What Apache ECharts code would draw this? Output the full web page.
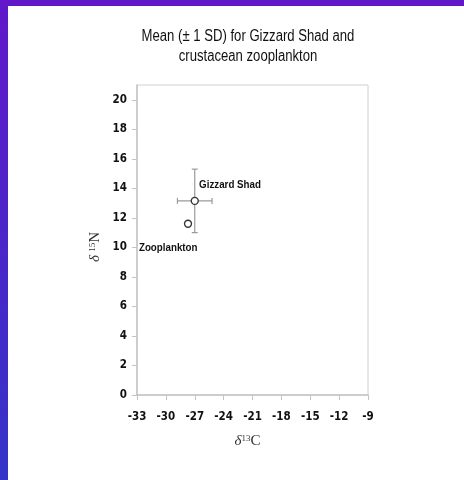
<!DOCTYPE html>
<html>
<head>
<meta charset="utf-8">
<script src="https://cdn.jsdelivr.net/npm/echarts@6/dist/echarts.min.js"></script>
<style>
html,body{margin:0;padding:0;background:#fff;}
#c{width:464px;height:480px;}
</style>
</head>
<body>
<div id="c"></div>
<script>
// Data
const groups = ['Gizzard Shad', 'Zooplankton'];
const meanC = [-27.0, -27.7];   // δ13C means
const meanN = [13.15, 11.6];    // δ15N means
const sdC = [1.8, 0];           // ±1 SD on δ13C
const sdN = [2.15, 0];          // ±1 SD on δ15N
const labelC = [-26.55, -32.8]; // annotation anchor (data units)
const labelN = [14.25, 10];
const xTicks = [-33, -30, -27, -24, -21, -18, -15, -12, -9];
const yTicks = [0, 2, 4, 6, 8, 10, 12, 14, 16, 18, 20];

const narrow = '"DejaVu Sans Condensed","Liberation Sans Narrow","Arial Narrow",sans-serif';
const sans = '"Liberation Sans",Arial,sans-serif';
const serif = '"Liberation Serif","Times New Roman",serif';

const chart = echarts.init(document.getElementById('c'), null, {renderer: 'canvas'});

const errData = groups.map((g, i) => [meanC[i], meanN[i], sdC[i], sdN[i]]);
const ptData = groups.map((g, i) => [meanC[i], meanN[i]]);
const lblData = groups.map((g, i) => [labelC[i], labelN[i], i]);

const nameRich = {
  d: {fontFamily: serif, fontStyle: 'italic', fontSize: 15, color: '#333', verticalAlign: 'bottom'},
  s: {fontFamily: serif, fontSize: 9, color: '#333', verticalAlign: 'top'},
  c: {fontFamily: serif, fontSize: 15, color: '#333', verticalAlign: 'bottom'}
};

chart.setOption({
  animation: false,
  backgroundColor: '#fff',
  graphic: [
    {type: 'rect', z: -10, shape: {x: 0, y: 0, width: 464, height: 6},
     style: {fill: '#6118c9'}},
    {type: 'rect', z: -10, shape: {x: 0, y: 0, width: 8, height: 480},
     style: {fill: new echarts.graphic.LinearGradient(0, 0, 0, 1, [
       {offset: 0, color: '#6118c9'}, {offset: 1, color: '#3434c8'}])}},
    {type: 'text', x: 248, y: 27, z: 10, scaleX: 0.82,
     style: {text: 'Mean (± 1 SD) for Gizzard Shad and\ncrustacean zooplankton',
       textAlign: 'center', fill: '#111', fontSize: 16, lineHeight: 20,
       fontFamily: sans, fontWeight: 'normal'}}
  ],
  grid: {left: 137, right: 96, top: 85, bottom: 85, show: true,
    borderColor: '#d0d0d0', borderWidth: 1, backgroundColor: 'transparent'},
  xAxis: {
    type: 'value', min: -33, max: -9, interval: 3,
    name: '{d|δ}{s|13}{c|C}', nameLocation: 'middle', nameGap: 39,
    nameTextStyle: {rich: nameRich, padding: [0, 10, 0, 0]},
    splitLine: {show: false},
    axisLine: {show: true, lineStyle: {color: '#c4c4c4', width: 1.5}},
    axisTick: {show: true, length: 5, lineStyle: {color: '#c4c4c4'}, customValues: xTicks},
    axisLabel: {customValues: xTicks, color: '#111', fontSize: 11.5, fontWeight: 'bold',
      fontFamily: narrow, margin: 16}
  },
  yAxis: {
    type: 'value', min: 0, max: 21,
    name: '{d|δ} {s|15}{c|N}', nameLocation: 'middle', nameGap: 34, nameRotate: 90,
    nameTextStyle: {rich: nameRich, padding: [0, 14, 0, 0]},
    splitLine: {show: false},
    axisLine: {show: true, lineStyle: {color: '#c4c4c4', width: 1.5}},
    axisTick: {show: true, length: 5, lineStyle: {color: '#c4c4c4'}, customValues: yTicks},
    axisLabel: {customValues: yTicks, color: '#111', fontSize: 11.5, fontWeight: 'bold',
      fontFamily: narrow, margin: 10}
  },
  series: [
    {
      type: 'custom', data: errData, z: 2,
      renderItem: function (params, api) {
        const x = api.value(0), y = api.value(1), sx = api.value(2), sy = api.value(3);
        const children = [];
        const st = {stroke: '#9a9a9a', lineWidth: 1.2};
        if (sx > 0) {
          const a = api.coord([x - sx, y]), b = api.coord([x + sx, y]);
          children.push({type: 'line', shape: {x1: a[0], y1: a[1], x2: b[0], y2: b[1]}, style: st});
          children.push({type: 'line', shape: {x1: a[0], y1: a[1] - 3, x2: a[0], y2: a[1] + 3}, style: st});
          children.push({type: 'line', shape: {x1: b[0], y1: b[1] - 3, x2: b[0], y2: b[1] + 3}, style: st});
        }
        if (sy > 0) {
          const a = api.coord([x, y - sy]), b = api.coord([x, y + sy]);
          children.push({type: 'line', shape: {x1: a[0], y1: a[1], x2: b[0], y2: b[1]}, style: st});
          children.push({type: 'line', shape: {x1: a[0] - 3, y1: a[1], x2: a[0] + 3, y2: a[1]}, style: st});
          children.push({type: 'line', shape: {x1: b[0] - 3, y1: b[1], x2: b[0] + 3, y2: b[1]}, style: st});
        }
        return {type: 'group', children: children};
      }
    },
    {
      type: 'scatter', data: ptData, z: 3, symbol: 'circle', symbolSize: 7,
      itemStyle: {color: '#fff', borderColor: '#333', borderWidth: 1.3, opacity: 1}
    },
    {
      type: 'custom', data: lblData, z: 4,
      renderItem: function (params, api) {
        const p = api.coord([api.value(0), api.value(1)]);
        return {type: 'text', x: p[0], y: p[1], scaleX: 0.85,
          style: {x: 0, y: 0, text: groups[api.value(2)], textAlign: 'left',
            textVerticalAlign: 'middle', fill: '#111', fontSize: 11.5,
            fontWeight: 'bold', fontFamily: sans}};
      }
    }
  ]
});
</script>
</body>
</html>
